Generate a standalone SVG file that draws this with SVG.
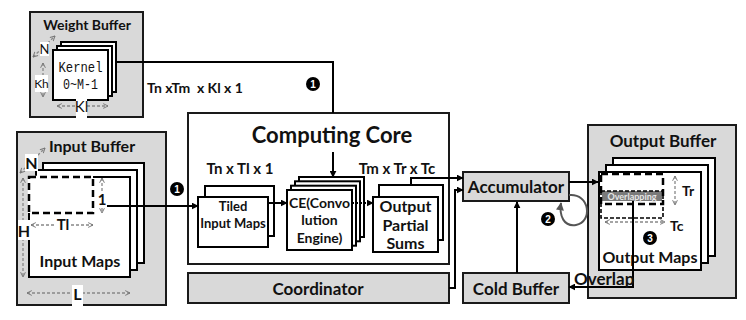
<svg xmlns="http://www.w3.org/2000/svg" width="746" height="320" viewBox="0 0 746 320">
  <defs>
    <style>
      .buf { fill: #d9d9d9; stroke: #1a1a1a; stroke-width: 2; }
      .core { fill: #fff; stroke: #1a1a1a; stroke-width: 2; }
      .card { fill: #fff; stroke: #000; stroke-width: 2; }
      .t { font-family: Lato, "Open Sans", "Liberation Sans", sans-serif; font-weight: 700; fill: #111; text-anchor: middle; }
      .tl { font-family: Lato, "Open Sans", "Liberation Sans", sans-serif; font-weight: 700; fill: #111; }
      .mono { font-family: "Liberation Mono", "DejaVu Sans Mono", monospace; fill: #111; text-anchor: middle; }
      .reg { font-family: Lato, "Open Sans", sans-serif; font-weight: 400; fill: #111; text-anchor: middle; }
      .wire { fill: none; stroke: #000; stroke-width: 2; }
      .dim { fill: none; stroke: #888; stroke-width: 1.3; stroke-dasharray: 3 2; }
      .tag { fill: #fff; }
      .tile { fill: none; stroke: #000; stroke-width: 2.5; stroke-dasharray: 7 4; }
      .badge { fill: #000; }
      .badge-t { font-family: "Liberation Sans", Arial, sans-serif; font-weight: 700; font-size: 10px; fill: #fff; text-anchor: middle; }
    </style>
    <marker id="arrow" viewBox="0 0 10 10" refX="9" refY="5" markerWidth="7" markerHeight="7" markerUnits="userSpaceOnUse" orient="auto">
      <path d="M0,0 L10,5 L0,10 z" fill="#000"/>
    </marker>
    <marker id="arrowGray" viewBox="0 0 10 10" refX="9" refY="5" markerWidth="8" markerHeight="8" markerUnits="userSpaceOnUse" orient="auto">
      <path d="M0,0 L10,5 L0,10 z" fill="#555"/>
    </marker>
    <marker id="chev" viewBox="0 0 10 10" refX="9" refY="5" markerWidth="6" markerHeight="6" markerUnits="userSpaceOnUse" orient="auto-start-reverse">
      <path d="M1,1 L9,5 L1,9" fill="none" stroke="#777" stroke-width="1.6"/>
    </marker>
  </defs>

  <rect width="746" height="320" fill="#fff"/>

  <!-- Weight buffer with kernel stack -->
  <g id="weight-buffer">
    <rect class="buf" x="30" y="12" width="113" height="105"/>
    <text class="t" x="87" y="30" font-size="14">Weight Buffer</text>
    <rect class="card" x="61" y="42" width="55" height="50"/>
    <rect class="card" x="57" y="46" width="55" height="50"/>
    <rect class="card" x="53" y="50" width="55" height="50"/>
    <text class="mono" x="80.5" y="72" font-size="14" textLength="44" lengthAdjust="spacingAndGlyphs">Kernel</text>
    <text class="mono" x="80.5" y="89" font-size="14" textLength="35" lengthAdjust="spacingAndGlyphs">0~M-1</text>
    <line class="dim" x1="33" y1="57" x2="55" y2="36" marker-start="url(#chev)" marker-end="url(#chev)"/>
    <rect class="tag" x="40" y="42" width="9" height="14"/>
    <text class="reg" x="44.5" y="54" font-size="13">N</text>
    <line class="dim" x1="43" y1="63" x2="43" y2="97" marker-start="url(#chev)" marker-end="url(#chev)"/>
    <rect class="tag" x="35" y="75" width="13" height="17"/>
    <text class="reg" x="41.5" y="88" font-size="12">Kh</text>
    <line class="dim" x1="57" y1="106" x2="108" y2="106" marker-start="url(#chev)" marker-end="url(#chev)"/>
    <rect class="tag" x="76" y="97" width="11" height="22"/>
    <text class="reg" x="81.5" y="112" font-size="15">Kl</text>
  </g>

  <!-- Input buffer with input map stack -->
  <g id="input-buffer">
    <rect class="buf" x="17" y="132" width="149" height="173"/>
    <text class="t" x="92" y="152" font-size="16">Input Buffer</text>
    <rect class="card" x="43" y="163" width="101" height="100"/>
    <rect class="card" x="36" y="170" width="101" height="100"/>
    <rect class="card" x="29" y="177" width="101" height="100"/>
    <path d="M29,213 V177 H93" fill="none" stroke="#fff" stroke-width="2.5"/>
    <rect class="tile" x="29" y="177" width="64" height="36"/>
    <line class="dim" x1="102" y1="178" x2="102" y2="213" marker-start="url(#chev)" marker-end="url(#chev)"/>
    <rect class="tag" x="97" y="192" width="10" height="15"/>
    <text class="t" x="102" y="205" font-size="15">1</text>
    <line class="dim" x1="31" y1="225" x2="93" y2="225" marker-start="url(#chev)" marker-end="url(#chev)"/>
    <rect class="tag" x="55" y="217" width="16" height="15"/>
    <text class="t" x="63" y="230" font-size="15">Tl</text>
    <line class="dim" x1="23" y1="178" x2="23" y2="277" marker-start="url(#chev)" marker-end="url(#chev)"/>
    <rect class="tag" x="18" y="220" width="12" height="20"/>
    <text class="t" x="24" y="237" font-size="16">H</text>
    <line class="dim" x1="27" y1="293" x2="130" y2="293" marker-start="url(#chev)" marker-end="url(#chev)"/>
    <rect class="tag" x="72" y="285" width="11" height="21"/>
    <text class="t" x="77.5" y="300" font-size="16">L</text>
    <line class="dim" x1="20" y1="173" x2="45" y2="148" marker-start="url(#chev)" marker-end="url(#chev)"/>
    <rect class="tag" x="25" y="154" width="13" height="17"/>
    <text class="t" x="31.5" y="169" font-size="16">N</text>
    <text class="t" x="80" y="267" font-size="16">Input Maps</text>
  </g>

  <!-- Computing core -->
  <g id="computing-core">
    <rect class="core" x="188" y="113" width="261" height="151"/>
    <text class="t" x="332" y="143" font-size="22">Computing Core</text>
    <text class="t" x="240" y="174" font-size="15">Tn x Tl x 1</text>
    <text class="t" x="397" y="174" font-size="15">Tm x Tr x Tc</text>
  </g>

  <g id="tiled-input-maps">
    <rect class="card" x="205" y="186" width="69" height="50"/>
    <rect class="card" x="198" y="197" width="70" height="50"/>
    <text class="t" x="233" y="211" font-size="13">Tiled</text>
    <text class="t" x="233" y="228" font-size="13">Input Maps</text>
  </g>

  <g id="convolution-engine">
    <rect class="card" x="299" y="177" width="65" height="60"/>
    <rect class="card" x="295" y="181.3" width="65" height="60"/>
    <rect class="card" x="291" y="185.7" width="65" height="60"/>
    <rect class="card" x="287" y="190" width="65" height="60"/>
    <text class="t" x="319.5" y="208" font-size="14">CE(Convo</text>
    <text class="t" x="319.5" y="225" font-size="14">lution</text>
    <text class="t" x="319.5" y="243" font-size="14">Engine)</text>
  </g>

  <g id="output-partial-sums">
    <rect class="card" x="379" y="185" width="64" height="55"/>
    <rect class="card" x="373" y="197" width="65" height="55"/>
    <text class="t" x="405.5" y="212" font-size="16">Output</text>
    <text class="t" x="405.5" y="231" font-size="16">Partial</text>
    <text class="t" x="405.5" y="249" font-size="16">Sums</text>
  </g>

  <g id="coordinator">
    <rect class="buf" x="188" y="273" width="261" height="30"/>
    <text class="t" x="318" y="295" font-size="17">Coordinator</text>
  </g>

  <g id="accumulator">
    <rect class="buf" x="463" y="172" width="106" height="29"/>
    <text class="t" x="516" y="193" font-size="17">Accumulator</text>
  </g>

  <g id="cold-buffer">
    <rect class="buf" x="463" y="273" width="106" height="30"/>
    <text class="t" x="516" y="295" font-size="17">Cold Buffer</text>
  </g>

  <!-- Output buffer with output map stack -->
  <g id="output-buffer">
    <rect class="buf" x="588" y="125" width="148" height="173"/>
    <text class="t" x="663" y="147" font-size="17">Output Buffer</text>
    <rect class="card" x="613" y="158" width="102" height="98"/>
    <rect class="card" x="606" y="165" width="102" height="98"/>
    <rect class="card" x="599" y="172" width="102" height="98"/>
    <rect x="602" y="191" width="60" height="10" fill="#7a7a7a"/>
    <text class="t" x="632" y="199.5" font-size="9" style="fill:#e6e6e6">Overlapping</text>
    <rect class="tile" x="601" y="174" width="62" height="30" stroke-width="2.2"/>
    <rect x="601" y="191" width="62" height="27" fill="none" stroke="#000" stroke-width="1.6" stroke-dasharray="4 2"/>
    <line class="dim" x1="675" y1="176" x2="675" y2="205" marker-start="url(#chev)" marker-end="url(#chev)"/>
    <text class="tl" x="682" y="196" font-size="14">Tr</text>
    <line class="dim" x1="605" y1="222" x2="665" y2="222" marker-start="url(#chev)" marker-end="url(#chev)"/>
    <text class="tl" x="670" y="231" font-size="14">Tc</text>
    <text class="t" x="650" y="263" font-size="16">Output Maps</text>
  </g>

  <!-- Connectors -->
  <g id="connectors">
    <polyline class="wire" points="116,62 333,62 333,113"/>
    <line class="wire" x1="333" y1="152" x2="333" y2="177" marker-end="url(#arrow)"/>
    <line class="wire" x1="107" y1="206" x2="198" y2="206" marker-end="url(#arrow)"/>
    <line class="wire" x1="268" y1="203" x2="287" y2="203" marker-end="url(#arrow)"/>
    <line class="wire" x1="352" y1="203" x2="373" y2="203" stroke-dasharray="2 2" marker-end="url(#arrow)"/>
    <polyline class="wire" points="411,185 411,178 463,178" marker-end="url(#arrow)"/>
    <polyline class="wire" points="449,288 455,288 455,190 463,190" marker-end="url(#arrow)"/>
    <line class="wire" x1="517" y1="273" x2="517" y2="202" marker-end="url(#arrow)"/>
    <line class="wire" x1="569" y1="182" x2="598" y2="182" marker-end="url(#arrow)"/>
    <path d="M569,195 C590,193 593,222 576,225 C564,227 559,216 561,203" fill="none" stroke="#555" stroke-width="2" marker-end="url(#arrowGray)"/>
    <polyline class="wire" points="633,201 633,287 569,287" marker-end="url(#arrow)"/>
    <text class="tl" x="574" y="285" font-size="17">Overlap</text>
  </g>

  <!-- Step badges -->
  <g id="badges">
    <circle class="badge" cx="313" cy="84" r="7"/>
    <text class="badge-t" x="313" y="87.5">1</text>
    <circle class="badge" cx="177" cy="189" r="7"/>
    <text class="badge-t" x="177" y="192.5">1</text>
    <circle class="badge" cx="548" cy="219" r="7"/>
    <text class="badge-t" x="548" y="222.5">2</text>
    <circle class="badge" cx="650" cy="238" r="7"/>
    <text class="badge-t" x="650" y="241.5">3</text>
  </g>

  <text class="tl" x="147" y="93" font-size="14" xml:space="preserve">Tn xTm  x Kl x 1</text>
</svg>
